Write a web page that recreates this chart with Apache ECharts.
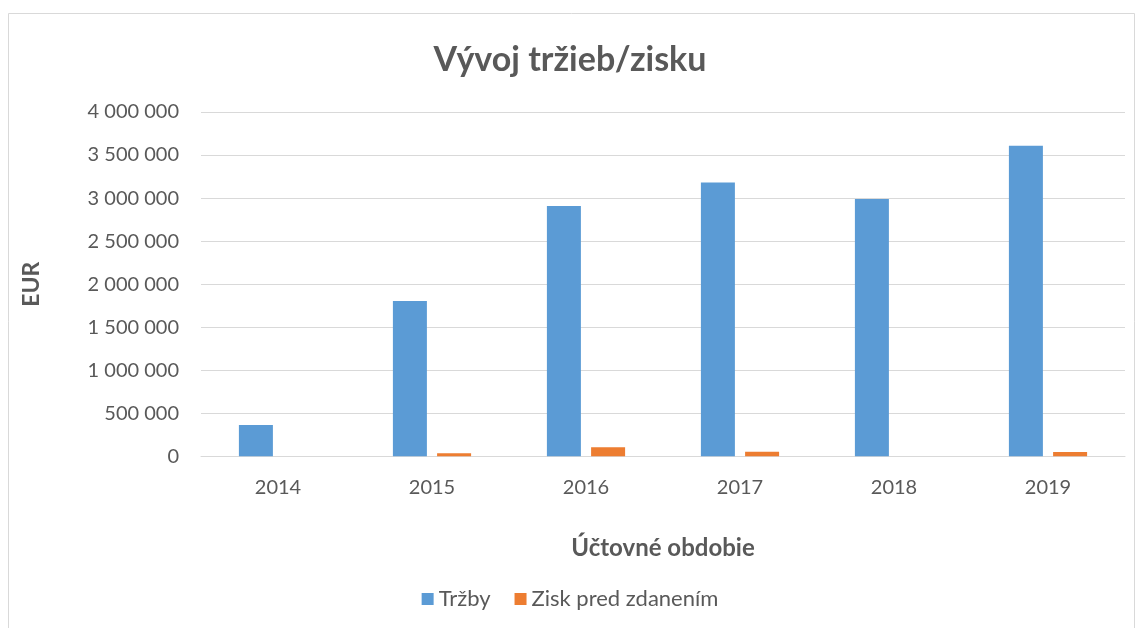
<!DOCTYPE html>
<html>
<head>
<meta charset="utf-8">
<script src="https://cdn.jsdelivr.net/npm/echarts@6/dist/echarts.min.js"></script>
<style>
  html, body { margin: 0; padding: 0; background: #fff; }
  #echart { width: 1140px; height: 628px; }
</style>
</head>
<body>
<div id="echart"></div>
<script>
var years = ["2014", "2015", "2016", "2017", "2018", "2019"];
var trzby = [364000, 1805000, 2907000, 3181000, 2988000, 3608000];
var zisk = [0, 35000, 105000, 52000, 0, 50000];

var chartDom = document.getElementById('echart');
var myChart = echarts.init(chartDom);

var textColor = "#595959";
var fontFam = "Lato, 'Noto Sans', sans-serif";

function spaced(v) {
    return String(v).replace(/\B(?=(\d{3})+(?!\d))/g, " ");
}

var option = {
    backgroundColor: "#fff",
    textStyle: { fontFamily: fontFam },
    graphic: [{
        type: "rect",
        shape: { x: 8.5, y: 13.5, width: 1126, height: 620 },
        style: { fill: null, stroke: "#d9d9d9", lineWidth: 1 },
        silent: true
    }],
    title: {
        text: "Vývoj tržieb/zisku",
        left: "center",
        top: 38,
        textStyle: { fontFamily: fontFam, fontSize: 34, fontWeight: "bold", color: textColor }
    },
    legend: {
        bottom: 13,
        left: "center",
        itemWidth: 12,
        itemHeight: 12,
        itemGap: 24,
        icon: "rect",
        textStyle: { fontFamily: fontFam, fontSize: 22, color: textColor },
        data: ["Tržby", "Zisk pred zdanením"]
    },
    grid: { left: 201, right: 15, top: 112, bottom: 171.7, containLabel: false },
    xAxis: {
        type: "category",
        data: years,
        name: "Účtovné obdobie",
        nameLocation: "middle",
        nameGap: 80,
        nameTextStyle: { fontFamily: fontFam, fontSize: 24, fontWeight: "bold", color: textColor },
        axisLine: { lineStyle: { color: "#d9d9d9", width: 1 } },
        axisTick: { show: false },
        axisLabel: { margin: 21, fontFamily: fontFam, fontSize: 20, color: textColor }
    },
    yAxis: {
        type: "value",
        min: 0,
        max: 4000000,
        interval: 500000,
        name: "EUR",
        nameLocation: "middle",
        nameGap: 158,
        nameRotate: 90,
        nameTextStyle: { fontFamily: fontFam, fontSize: 23, fontWeight: "bold", color: textColor },
        axisLine: { show: false },
        axisTick: { show: false },
        splitLine: { lineStyle: { color: "#d9d9d9", width: 1 } },
        axisLabel: {
            margin: 22,
            fontFamily: fontFam,
            fontSize: 20,
            color: textColor,
            formatter: spaced
        }
    },
    series: [{
        name: "Tržby",
        type: "bar",
        data: trzby,
        barWidth: 34,
        barGap: "30%",
        itemStyle: { color: "#5b9bd5" }
    }, {
        name: "Zisk pred zdanením",
        type: "bar",
        data: zisk,
        barWidth: 34,
        itemStyle: { color: "#ed7d31" }
    }]
};

myChart.setOption(option);

window.addEventListener("resize", function () {
    myChart.resize();
});
</script>
</body>
</html>
